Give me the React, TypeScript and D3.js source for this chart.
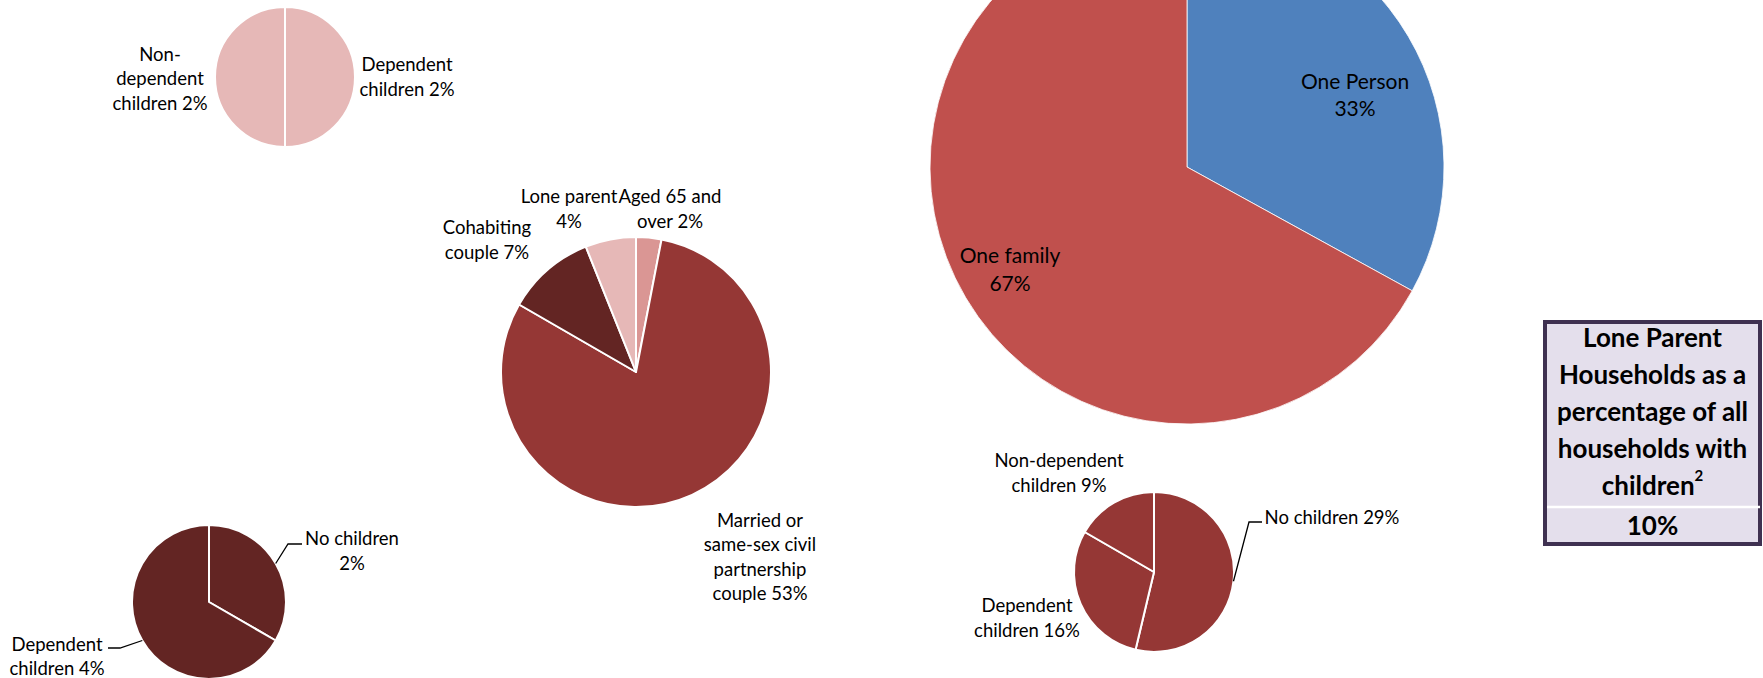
import { useEffect, useRef } from "react";
import * as d3 from "d3";

// all households
const householdTypes = ["One Person", "One family"];
const householdShares = [33, 67];

// one family households by family type
const familyTypes = ["Aged 65 and over", "Married or same-sex civil partnership couple", "Cohabiting couple", "Lone parent"];
const familyShares = [2, 53, 7, 4];

// lone parent households
const loneParentTypes = ["Dependent children", "Non-dependent children"];
const loneParentShares = [2, 2];

// cohabiting couple households
const cohabitingTypes = ["No children", "Dependent children"];
const cohabitingShares = [2, 4];

// married couple households
const marriedTypes = ["No children", "Dependent children", "Non-dependent children"];
const marriedShares = [29, 16, 9];

// summary box
const boxTitle = "Lone Parent Households as a percentage of all households with children";
const boxNote = "2";
const boxValue = "10%";

const FONT = "Lato, 'Open Sans', sans-serif";

interface LabelSpot {
  x: number;
  y: number;
  wrap: number;
  elbow?: [number, number, number]; // elbow x, elbow y, end x
}

interface PieSpec {
  names: string[];
  values: number[];
  colors: string[];
  cx: number;
  cy: number;
  r: number;
  stroke: number;
  fontSize: number;
  lineGap: number;
  labels: LabelSpot[];
}

// greedy wrap that may also break after a hyphen
function wrapText(text: string, maxChars: number): string[] {
  const tokens: { t: string; glue: string }[] = [];
  text.split(" ").forEach((word, wi) => {
    const parts = word.split(/(?<=-)/);
    parts.forEach((p, pi) => tokens.push({ t: p, glue: pi === 0 && wi > 0 ? " " : "" }));
  });
  const lines: string[] = [];
  let cur = "";
  tokens.forEach((tok) => {
    if (cur === "") {
      cur = tok.t;
    } else if ((cur + tok.glue + tok.t).length <= maxChars) {
      cur = cur + tok.glue + tok.t;
    } else {
      lines.push(cur);
      cur = tok.t;
    }
  });
  if (cur) lines.push(cur);
  return lines;
}

const pies: PieSpec[] = [
  {
    names: loneParentTypes,
    values: loneParentShares,
    colors: ["#E6B8B7", "#E6B8B7"],
    cx: 285, cy: 77, r: 70, stroke: 2, fontSize: 18.5, lineGap: 24.5,
    labels: [
      { x: 407, y: 76.5, wrap: 11 },
      { x: 160, y: 78, wrap: 11 },
    ],
  },
  {
    names: familyTypes,
    values: familyShares,
    colors: ["#DA9694", "#953735", "#632523", "#E6B8B7"],
    cx: 636, cy: 372, r: 135, stroke: 2, fontSize: 18.5, lineGap: 24.5,
    labels: [
      { x: 670, y: 208.5, wrap: 11 },
      { x: 760, y: 556.5, wrap: 14 },
      { x: 487, y: 239.5, wrap: 11 },
      { x: 569, y: 208.5, wrap: 11 },
    ],
  },
  {
    names: householdTypes,
    values: householdShares,
    colors: ["#4F81BD", "#C0504D"],
    cx: 1187, cy: 167, r: 257, stroke: 0.8, fontSize: 21, lineGap: 27.5,
    labels: [
      { x: 1355, y: 94, wrap: 10 },
      { x: 1010, y: 268.5, wrap: 10 },
    ],
  },
  {
    names: cohabitingTypes,
    values: cohabitingShares,
    colors: ["#632523", "#632523"],
    cx: 209, cy: 602, r: 77, stroke: 2, fontSize: 18.5, lineGap: 24.5,
    labels: [
      { x: 352, y: 550.5, wrap: 11, elbow: [288, 544, 302] },
      { x: 57, y: 656, wrap: 11, elbow: [120, 648, 108] },
    ],
  },
  {
    names: marriedTypes,
    values: marriedShares,
    colors: ["#953735", "#953735", "#953735"],
    cx: 1154, cy: 572, r: 80, stroke: 2, fontSize: 18.5, lineGap: 24.5,
    labels: [
      { x: 1332, y: 517, wrap: 20, elbow: [1249, 522, 1262] },
      { x: 1027, y: 617.5, wrap: 12 },
      { x: 1059, y: 472.5, wrap: 13 },
    ],
  },
];

export default function App() {
  const svgRef = useRef<SVGSVGElement>(null);

  useEffect(() => {
    if (!svgRef.current) return;
    const svg = d3.select(svgRef.current);
    svg.selectAll("*").remove();

    const pieGen = d3.pie<number>().sort(null).value((d) => d);

    pies.forEach((spec) => {
      const g = svg.append("g").attr("transform", `translate(${spec.cx},${spec.cy})`);
      const arcs = pieGen(spec.values);
      const arc = d3.arc<d3.PieArcDatum<number>>().innerRadius(0).outerRadius(spec.r);

      g.selectAll("path.slice")
        .data(arcs)
        .join("path")
        .attr("class", "slice")
        .attr("d", arc)
        .attr("fill", (_, i) => spec.colors[i])
        .attr("stroke", "#ffffff")
        .attr("stroke-width", spec.stroke)
        .attr("stroke-linejoin", "round");

      arcs.forEach((a, i) => {
        const lab = spec.labels[i];
        const text = `${spec.names[i]} ${spec.values[i]}%`;
        const lines = wrapText(text, lab.wrap);

        if (lab.elbow) {
          const mid = (a.startAngle + a.endAngle) / 2;
          const [px, py] = d3.pointRadial(mid, spec.r);
          const [ex, ey, endX] = lab.elbow;
          svg
            .append("polyline")
            .attr("points", `${spec.cx + px},${spec.cy + py} ${ex},${ey} ${endX},${ey}`)
            .attr("fill", "none")
            .attr("stroke", "#000")
            .attr("stroke-width", 1.3);
        }

        const t = svg
          .append("text")
          .attr("text-anchor", "middle")
          .attr("font-family", FONT)
          .attr("font-size", spec.fontSize)
          .attr("fill", "#000");
        const top = lab.y - ((lines.length - 1) * spec.lineGap) / 2;
        lines.forEach((ln, li) => {
          t.append("tspan")
            .attr("x", lab.x)
            .attr("y", top + li * spec.lineGap)
            .attr("dominant-baseline", "central")
            .text(ln);
        });
      });
    });

    // summary box
    const box = { x: 1545, y: 322, w: 215, h: 222 };
    const bg = svg.append("g");
    bg.append("rect")
      .attr("x", box.x)
      .attr("y", box.y)
      .attr("width", box.w)
      .attr("height", box.h)
      .attr("fill", "#E4DFEC")
      .attr("stroke", "#3F3151")
      .attr("stroke-width", 4);
    bg.append("line")
      .attr("x1", box.x + 2)
      .attr("x2", box.x + box.w)
      .attr("y1", 507)
      .attr("y2", 507)
      .attr("stroke", "#ffffff")
      .attr("stroke-width", 2.5);

    const titleLines = wrapText(boxTitle, 17);
    const midX = box.x + box.w / 2;
    titleLines.forEach((ln, i) => {
      const t = bg
        .append("text")
        .attr("x", midX)
        .attr("y", 337 + i * 37)
        .attr("text-anchor", "middle")
        .attr("dominant-baseline", "central")
        .attr("font-family", FONT)
        .attr("font-weight", 700)
        .attr("font-size", 26)
        .attr("fill", "#000");
      t.append("tspan").text(ln);
      if (i === titleLines.length - 1) {
        t.append("tspan").attr("font-size", 15).attr("dy", -10).text(boxNote);
      }
    });
    bg.append("text")
      .attr("x", midX)
      .attr("y", 525)
      .attr("text-anchor", "middle")
      .attr("dominant-baseline", "central")
      .attr("font-family", FONT)
      .attr("font-weight", 700)
      .attr("font-size", 26)
      .attr("fill", "#000")
      .text(boxValue);
  }, []);

  return (
    <svg
      ref={svgRef}
      width={1763}
      height={678}
      style={{ position: "absolute", left: 0, top: 0, background: "#ffffff" }}
    />
  );
}
